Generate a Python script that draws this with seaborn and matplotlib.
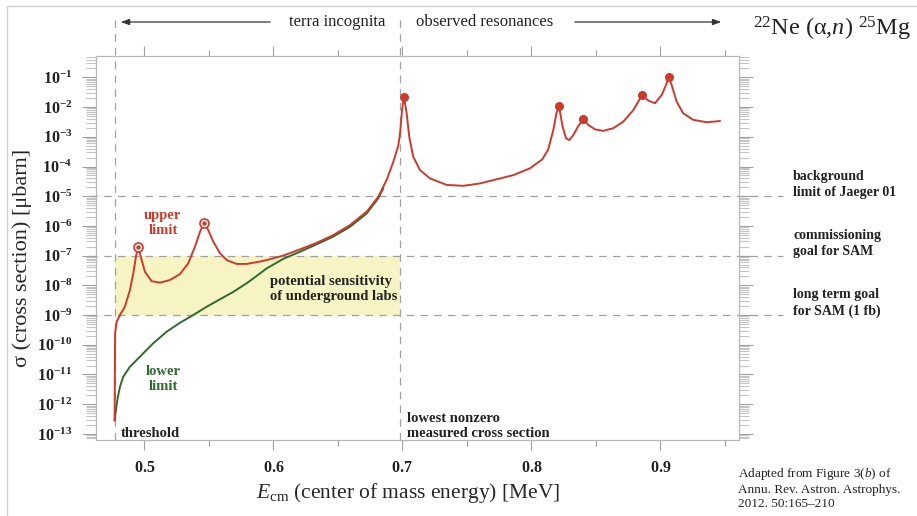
import numpy as np
import pandas as pd
import matplotlib
matplotlib.use("Agg")
import matplotlib.pyplot as plt
import matplotlib.ticker as mticker
from matplotlib.patches import Rectangle
import seaborn as sns

# Upper limit on the 22Ne(a,n)25Mg cross section: energy [MeV] and log10(sigma / ubarn)
upper_E = [0.4770, 0.4774, 0.4786, 0.4812, 0.4850, 0.4889, 0.4915, 0.4936, 0.4953,
           0.4980, 0.5005, 0.5057, 0.5122, 0.5200, 0.5277, 0.5341, 0.5393, 0.5432,
           0.5465, 0.5496, 0.5535, 0.5587, 0.5639, 0.5716, 0.5794, 0.5897, 0.5949,
           0.6077, 0.6207, 0.6336, 0.6465, 0.6595, 0.6724, 0.6814, 0.6879, 0.6930,
           0.6969, 0.6983, 0.6998, 0.7013, 0.7034, 0.7054, 0.7085, 0.7137, 0.7215,
           0.7344, 0.7473, 0.7602, 0.7732, 0.7861, 0.7990, 0.8085, 0.8130, 0.8171,
           0.8195, 0.8215, 0.8243, 0.8269, 0.8295, 0.8326, 0.8364, 0.8403, 0.8442,
           0.8494, 0.8558, 0.8636, 0.8713, 0.8791, 0.8858, 0.8907, 0.8959, 0.9011,
           0.9044, 0.9065, 0.9088, 0.9127, 0.9178, 0.9256, 0.9360, 0.9463]
upper_log = [-12.55, -9.62, -9.23, -9.00, -8.72, -8.16, -7.60, -7.02, -6.70,
             -7.15, -7.54, -7.86, -7.91, -7.82, -7.62, -7.26, -6.70, -6.20,
             -5.89, -6.14, -6.53, -6.92, -7.15, -7.28, -7.28, -7.20, -7.15,
             -7.00, -6.79, -6.57, -6.31, -5.97, -5.52, -5.02, -4.45, -3.85,
             -3.30, -2.88, -2.10, -1.65, -2.21, -3.00, -3.67, -4.12, -4.40,
             -4.62, -4.65, -4.57, -4.43, -4.29, -4.06, -3.76, -3.44, -2.77,
             -2.20, -1.98, -2.66, -3.05, -3.11, -2.94, -2.64, -2.41, -2.60,
             -2.75, -2.80, -2.71, -2.49, -2.10, -1.60, -1.78, -1.87, -1.59,
             -1.26, -1.00, -1.26, -1.82, -2.21, -2.43, -2.51, -2.47]

# Lower limit below the lowest measured resonance
lower_E = [0.4770, 0.4791, 0.4812, 0.4837, 0.4889, 0.4967, 0.5070, 0.5174, 0.5277,
           0.5380, 0.5484, 0.5587, 0.5690, 0.5794, 0.5897, 0.5949, 0.6077, 0.6207,
           0.6336, 0.6465, 0.6595, 0.6724, 0.6814, 0.6853]
lower_log = [-12.55, -11.86, -11.41, -11.08, -10.74, -10.40, -9.95, -9.56, -9.26,
             -9.00, -8.72, -8.47, -8.22, -7.93, -7.60, -7.43, -7.11, -6.87,
             -6.62, -6.36, -6.03, -5.58, -5.07, -4.73]

# Resonances: unobserved (open) and observed (filled)
open_res_E = [0.4953, 0.5465]
open_res_log = [-6.70, -5.89]
obs_res_E = [0.7013, 0.8215, 0.8403, 0.8858, 0.9065]
obs_res_log = [-1.65, -1.98, -2.41, -1.60, -1.00]

threshold_E = 0.477
lowest_measured_E = 0.698
sensitivity_band = (1e-9, 1e-7)
goal_levels = [1e-5, 1e-7, 1e-9]
goal_labels = ["background\nlimit of Jaeger 01",
               "commissioning\ngoal for SAM",
               "long term goal\nfor SAM (1 fb)"]
x_ticks = [0.5, 0.6, 0.7, 0.8, 0.9]

RED = "#cc3a2c"
GREEN = "#2f6a2f"
GRAY = "#a0a0a0"

sns.set_style("ticks")
plt.rcParams["font.family"] = ["Liberation Serif", "DejaVu Serif"]
plt.rcParams["mathtext.fontset"] = "custom"
plt.rcParams["mathtext.rm"] = "Liberation Serif"
plt.rcParams["mathtext.it"] = "Liberation Serif:italic"
plt.rcParams["mathtext.bf"] = "Liberation Serif:bold"
plt.rcParams["text.color"] = "#222222"

upper = pd.DataFrame({"E": upper_E, "sigma": np.power(10.0, upper_log)})
lower = pd.DataFrame({"E": lower_E, "sigma": np.power(10.0, lower_log)})

fig = plt.figure(figsize=(9.17, 5.16), dpi=100)
ax = fig.add_axes([96 / 917, 1 - 439.5 / 516, (739 - 96) / 917, (439.5 - 56) / 516])
ax.set_yscale("log")
ax.set_xlim(0.4626, 0.961)
ax.set_ylim(10 ** -13.19, 10 ** -0.28)

# sensitivity band of underground labs
ax.fill_between([threshold_E, lowest_measured_E], sensitivity_band[0], sensitivity_band[1],
                color="#f6f4c3", lw=0, zorder=0)

dash = (0, (6, 5))
for lev in goal_levels:
    ax.axhline(lev, xmin=-0.01, xmax=1.068, color=GRAY, lw=0.9, ls=dash,
               clip_on=False, zorder=1)
for xv in (threshold_E, lowest_measured_E):
    ax.axvline(xv, ymin=0, ymax=(439.5 - 15) / (439.5 - 56), color=GRAY, lw=0.9,
               ls=dash, clip_on=False, zorder=1)

sns.lineplot(data=lower, x="E", y="sigma", sort=False, estimator=None,
             color=GREEN, lw=1.4, ax=ax, zorder=3)
sns.lineplot(data=upper, x="E", y="sigma", sort=False, estimator=None,
             color=RED, lw=1.4, ax=ax, zorder=4)

ax.plot(obs_res_E, np.power(10.0, obs_res_log), ls="none", marker="o", ms=5.5,
        color=RED, zorder=5)
ax.plot(open_res_E, np.power(10.0, open_res_log), ls="none", marker="o", ms=6.5,
        mfc="white", mec=RED, mew=1.2, zorder=5)
ax.plot(open_res_E, np.power(10.0, open_res_log), ls="none", marker="o", ms=2.2,
        color=RED, zorder=6)

# axes styling
for s in ax.spines.values():
    s.set_color("#b8b8b8")
    s.set_linewidth(0.9)
ax.yaxis.set_major_locator(mticker.LogLocator(base=10, numticks=30))
ax.yaxis.set_minor_locator(mticker.LogLocator(base=10, subs=np.arange(2, 10), numticks=30))
ax.yaxis.set_major_formatter(mticker.FuncFormatter(
    lambda v, p: r"$\mathbf{10^{%d}}$" % int(round(np.log10(v)))))
ax.xaxis.set_major_locator(mticker.FixedLocator(x_ticks))
ax.xaxis.set_minor_locator(mticker.MultipleLocator(0.05))
ax.xaxis.set_major_formatter(mticker.FuncFormatter(lambda v, p: r"$\mathbf{%g}$" % v))
ax.tick_params(which="both", direction="out", top=True, right=True, color=GRAY,
               width=0.8, labelsize=11.5, labelcolor="#222222")
ax.tick_params(axis="y", which="major", length=10, pad=7)
ax.tick_params(axis="y", which="minor", length=7, color="#c4c4c4")
ax.tick_params(axis="x", which="major", length=7, pad=8)
ax.tick_params(axis="x", which="minor", length=4)

ax.set_xlabel(r"$E_{\rm cm}$ (center of mass energy) [MeV]", fontsize=15.5)
ax.xaxis.set_label_coords((408 - 96) / 643, -(493 - 439.5) / 383.5, transform=ax.transAxes)
ax.xaxis.label.set_va("center")
ax.set_ylabel("σ (cross section) [μbarn]", fontsize=16)
ax.yaxis.set_label_coords((22 - 96) / 643, 1 - (257.5 - 56) / 383.5, transform=ax.transAxes)
ax.yaxis.label.set_va("center")

# in-plot annotations
bold = dict(fontweight="bold", fontsize=10.5)
ax.text(0.4815, 10 ** -13.1, "threshold", ha="left", va="baseline", **bold)
ax.text(0.7036, 10 ** -13.1, "lowest nonzero\nmeasured cross section", ha="left",
        va="baseline", linespacing=1.2, **bold)
ax.text(0.5975, 10 ** -8.12, "potential sensitivity\nof underground labs", ha="left",
        va="center", linespacing=1.2, **bold)
ax.text(0.5145, 10 ** -5.9, "upper\nlimit", ha="center", va="center", color=RED,
        linespacing=1.2, **bold)
ax.text(0.5145, 10 ** -11.15, "lower\nlimit", ha="center", va="center", color=GREEN,
        linespacing=1.2, **bold)

for lev, lab in zip(goal_levels, goal_labels):
    ax.annotate(lab, xy=(793 / 917, lev), xycoords=("figure fraction", "data"),
                xytext=(0, 8.5), textcoords="offset points", ha="left", va="center",
                linespacing=1.3, fontweight="bold", fontsize=10)

# region arrows above the frame
arrow_y = 1 - 22 / 516
arrow = dict(arrowstyle="-|>,head_length=0.5,head_width=0.18", color="#333333", lw=0.9)
ax.annotate("", xy=(0.4797, arrow_y), xytext=(0.5998, arrow_y),
            xycoords=("data", "figure fraction"), arrowprops=arrow)
ax.annotate("", xy=(0.9494, arrow_y), xytext=(0.8316, arrow_y),
            xycoords=("data", "figure fraction"), arrowprops=arrow)
ax.annotate("terra incognita", xy=(0.6496, arrow_y), xycoords=("data", "figure fraction"),
            ha="center", va="center", fontsize=12)
ax.annotate("observed resonances", xy=(0.7637, arrow_y), xycoords=("data", "figure fraction"),
            ha="center", va="center", fontsize=12)

fig.text(832 / 917, 1 - 29 / 516, r"$^{22}$Ne (α,$n$) $^{25}$Mg", ha="center",
         va="center", fontsize=17.5)
fig.text(738 / 917, 1 - 488 / 516,
         "Adapted from Figure 3($b$) of\nAnnu. Rev. Astron. Astrophys.\n2012. 50:165–210",
         ha="left", va="center", fontsize=9.5, linespacing=1.25)

# light page frame
fig.add_artist(Rectangle((7 / 917, -0.05), 1.2, 1 - 6 / 516 + 0.05, transform=fig.transFigure,
                         fill=False, ec="#d0d0d0", lw=1.0))

fig.savefig("out.png", dpi=100)
